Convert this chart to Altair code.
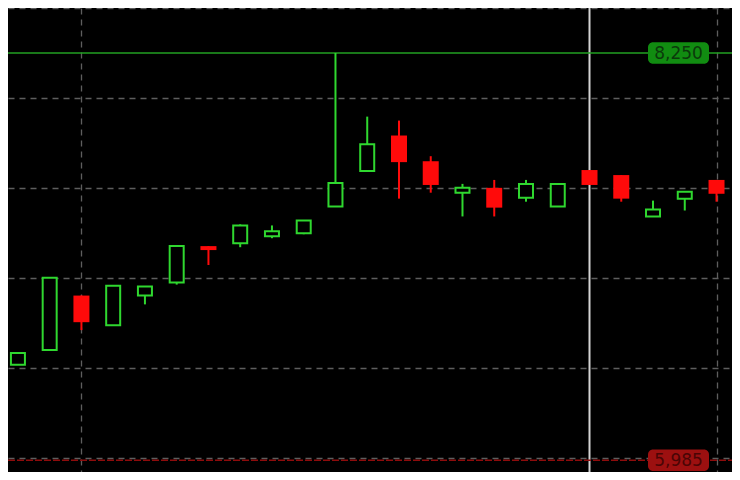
import altair as alt
import pandas as pd

# Candles (index, open, high, low, close)
idx    = list(range(1, 24))
opens  = [6516, 6599, 6901, 6736, 6901, 6973, 7176, 7192, 7231, 7247, 7396, 7593,
          7791, 7648, 7473, 7500, 7445, 7396, 7599, 7571, 7341, 7440, 7544]
highs  = [6582, 7000, 6901, 6956, 6951, 7176, 7176, 7297, 7291, 7319, 8250, 7896,
          7874, 7676, 7522, 7544, 7544, 7522, 7599, 7571, 7429, 7478, 7544]
lows   = [6516, 6599, 6709, 6736, 6852, 6962, 7071, 7170, 7220, 7242, 7396, 7593,
          7440, 7473, 7341, 7341, 7423, 7396, 7516, 7423, 7341, 7374, 7423]
closes = [6582, 7000, 6753, 6956, 6951, 7176, 7154, 7291, 7258, 7319, 7527, 7742,
          7643, 7516, 7500, 7390, 7522, 7522, 7516, 7440, 7379, 7478, 7467]

grid_prices = [6000, 6500, 7000, 7500, 8000, 8500]
grid_candles = [3, 23]
cursor_candle = [19]
price_tags = [8250, 5985]
price_labels = ["8,250", "5,985"]
price_kinds = ["high", "low"]

GREEN = "#2fd82f"
RED = "#ff0a0a"

df = pd.DataFrame({"i": idx, "open": opens, "high": highs, "low": lows, "close": closes})
df["dir"] = ["up" if c >= o else "down" for o, c in zip(opens, closes)]

tags = pd.DataFrame({"price": price_tags, "label": price_labels, "kind": price_kinds})

xscale = alt.Scale(domain=[0.845, 23.33], nice=False, zero=False)
yscale = alt.Scale(domain=[5920, 8500], nice=False, zero=False)

color_scale = alt.Scale(domain=["up", "down"], range=[GREEN, RED])

xaxis = alt.Axis(values=grid_candles, grid=True, gridDash=[6, 5], gridColor="#5e5e5e",
                 gridWidth=1.3, labels=False, ticks=False, domain=False, title=None)
yaxis = alt.Axis(values=grid_prices, grid=True, gridDash=[6, 5], gridColor="#5e5e5e",
                 gridWidth=1.3, labels=False, ticks=False, domain=False, title=None)

base = alt.Chart(df)

grid_layer = base.mark_point(opacity=0).encode(
    x=alt.X("i:Q", scale=xscale, axis=xaxis),
    y=alt.Y("close:Q", scale=yscale, axis=yaxis),
)

cursor = alt.Chart(pd.DataFrame({"i": cursor_candle})).mark_rule(
    color="#d4d4d4", strokeWidth=2
).encode(x=alt.X("i:Q", scale=xscale))

wicks = base.mark_rule(strokeWidth=2).encode(
    x=alt.X("i:Q", scale=xscale),
    y=alt.Y("low:Q", scale=yscale),
    y2="high:Q",
    color=alt.Color("dir:N", scale=color_scale, legend=None),
)

up_bodies = base.transform_filter("datum.dir == 'up'").mark_bar(
    size=14, fill="#000000", stroke=GREEN, strokeWidth=2
).encode(
    x=alt.X("i:Q", scale=xscale),
    y=alt.Y("open:Q", scale=yscale),
    y2="close:Q",
)

down_bodies = base.transform_filter("datum.dir == 'down'").mark_bar(
    size=16, color=RED
).encode(
    x=alt.X("i:Q", scale=xscale),
    y=alt.Y("open:Q", scale=yscale),
    y2="close:Q",
)

tag_base = alt.Chart(tags)

high_line = tag_base.transform_filter("datum.kind == 'high'").mark_rule(
    color="#22a022", strokeWidth=1.5
).encode(y=alt.Y("price:Q", scale=yscale), x=alt.value(0), x2=alt.value(724))

low_line = tag_base.transform_filter("datum.kind == 'low'").mark_rule(
    color="#8e0c0c", strokeWidth=1.5, strokeDash=[7, 2]
).encode(y=alt.Y("price:Q", scale=yscale), x=alt.value(0), x2=alt.value(724))

tag_boxes = tag_base.transform_calculate(
    top="datum.price + 60", bot="datum.price - 60"
).mark_rect(cornerRadius=5).encode(
    x=alt.value(640), x2=alt.value(701),
    y=alt.Y("top:Q", scale=yscale), y2="bot:Q",
    color=alt.Color("kind:N", scale=alt.Scale(domain=["high", "low"], range=["#118c11", "#9c1010"]), legend=None),
)

tag_text = tag_base.mark_text(font="DejaVu Sans", fontSize=17, align="center", baseline="middle", dy=1).encode(
    x=alt.value(670.5),
    y=alt.Y("price:Q", scale=yscale),
    text="label:N",
    color=alt.Color("kind:N", scale=alt.Scale(domain=["high", "low"], range=["#0b3a0b", "#4a0505"]), legend=None),
)

chart = alt.layer(
    grid_layer, cursor, high_line, low_line, wicks, up_bodies, down_bodies, tag_boxes, tag_text
).resolve_scale(color="independent").properties(
    width=724, height=464, background="#000000", padding=0,
    autosize=alt.AutoSizeParams(type="none"),
).configure_view(stroke=None)

chart.save("out.html", embed_options={"renderer": "svg", "actions": False})
